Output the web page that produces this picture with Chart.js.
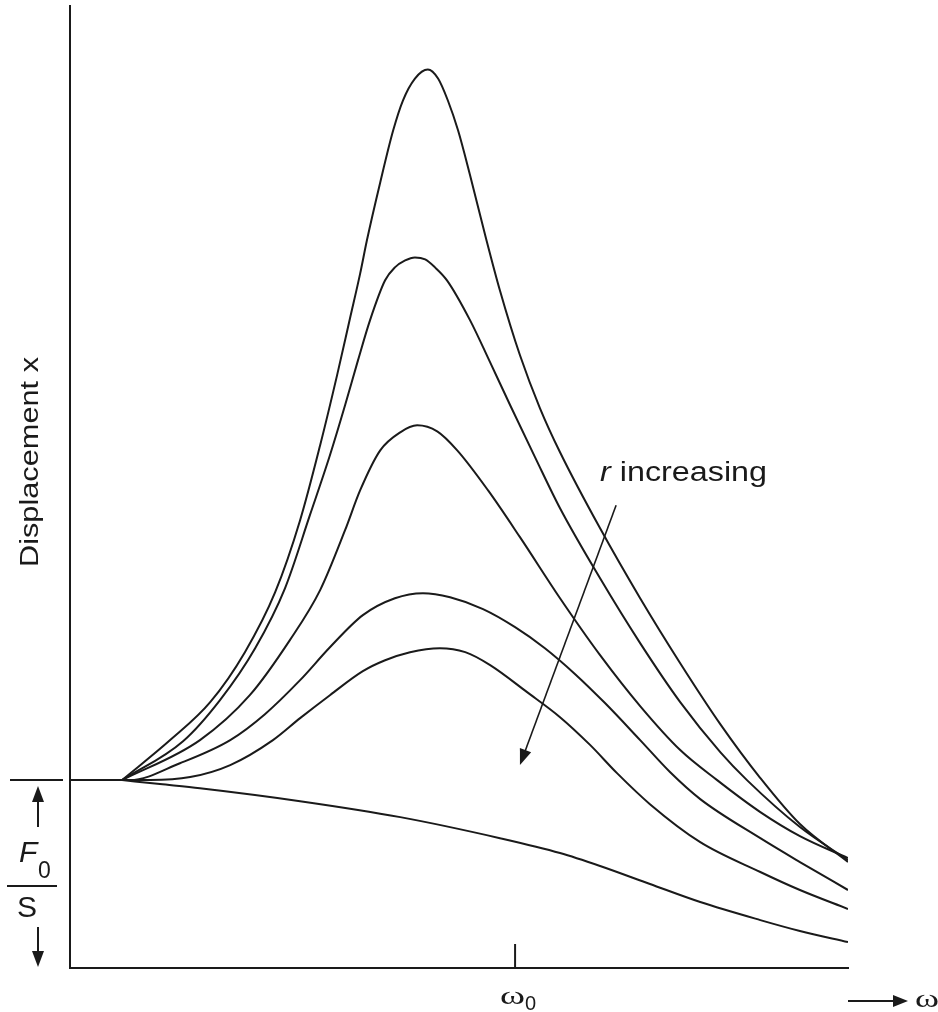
<!DOCTYPE html>
<html>
<head>
<meta charset="utf-8">
<script src="https://cdn.jsdelivr.net/npm/chart.js"></script>
<style>
  html, body { margin: 0; padding: 0; background: #fff; }
  #wrap { position: relative; width: 938px; height: 1012px; }
</style>
</head>
<body>
<div id="wrap"><canvas id="resChart"></canvas></div>
<script>
// frequency is omega / omega0, displacement is in units of F0/S
// shared flat start, then the curves fan out: small damping r (tallest) to large r (bottom)
const omegaFlat = [0, 0.117];
const dispFlat = [1.0, 1.0];

const omega1 = [0.117, 0.225, 0.315, 0.393, 0.461, 0.517, 0.562, 0.6, 0.629, 0.652, 0.667, 0.697, 0.726, 0.748, 0.775, 0.804, 0.827, 0.849, 0.872, 0.899, 0.933, 0.966, 1.011, 1.056, 1.101, 1.191, 1.281, 1.371, 1.461, 1.551, 1.64, 1.748];
const disp1 = [1.0, 1.213, 1.415, 1.681, 2.0, 2.383, 2.782, 3.154, 3.457, 3.697, 3.872, 4.181, 4.457, 4.617, 4.734, 4.782, 4.734, 4.617, 4.457, 4.218, 3.899, 3.606, 3.261, 2.979, 2.745, 2.34, 1.968, 1.622, 1.298, 1.011, 0.766, 0.564];

const omega2 = [0.117, 0.254, 0.337, 0.416, 0.483, 0.539, 0.584, 0.618, 0.647, 0.674, 0.708, 0.73, 0.753, 0.775, 0.798, 0.82, 0.847, 0.899, 0.944, 0.989, 1.045, 1.101, 1.191, 1.281, 1.371, 1.461, 1.521, 1.64, 1.748];
const disp2 = [1.0, 1.207, 1.426, 1.702, 2.021, 2.41, 2.729, 2.995, 3.234, 3.447, 3.66, 3.729, 3.766, 3.782, 3.771, 3.729, 3.66, 3.447, 3.223, 2.995, 2.718, 2.447, 2.074, 1.729, 1.415, 1.149, 1.0, 0.75, 0.574];

const omega3 = [0.117, 0.292, 0.404, 0.494, 0.562, 0.618, 0.652, 0.697, 0.742, 0.78, 0.825, 0.87, 0.939, 1.011, 1.101, 1.191, 1.281, 1.371, 1.454, 1.551, 1.64, 1.748];
const disp3 = [1.0, 1.213, 1.452, 1.745, 2.011, 2.33, 2.543, 2.755, 2.851, 2.888, 2.856, 2.755, 2.543, 2.293, 1.968, 1.665, 1.394, 1.16, 1.0, 0.83, 0.702, 0.585];

const omega4 = [0.117, 0.135, 0.247, 0.36, 0.438, 0.517, 0.584, 0.658, 0.73, 0.793, 0.854, 0.928, 1.0, 1.067, 1.135, 1.202, 1.281, 1.348, 1.416, 1.551, 1.64, 1.748];
const disp4 = [1.0, 1.0, 1.09, 1.213, 1.351, 1.532, 1.707, 1.878, 1.968, 1.995, 1.973, 1.91, 1.814, 1.702, 1.564, 1.41, 1.213, 1.043, 0.899, 0.691, 0.564, 0.415];

const omega5 = [0.117, 0.18, 0.27, 0.36, 0.456, 0.517, 0.584, 0.658, 0.708, 0.764, 0.831, 0.888, 0.944, 1.027, 1.101, 1.169, 1.229, 1.303, 1.416, 1.551, 1.64, 1.748];
const disp5 = [1.0, 1.0, 1.016, 1.08, 1.213, 1.33, 1.452, 1.58, 1.638, 1.681, 1.702, 1.681, 1.612, 1.468, 1.335, 1.186, 1.037, 0.872, 0.67, 0.511, 0.415, 0.314];

const omega6 = [0.117, 0.202, 0.292, 0.517, 0.742, 0.966, 1.101, 1.191, 1.303, 1.416, 1.551, 1.64, 1.748];
const disp6 = [1.0, 0.979, 0.957, 0.888, 0.803, 0.691, 0.612, 0.543, 0.447, 0.351, 0.255, 0.197, 0.138];

const omegaMax = 1.748;
const dispMax = 5.12;
const omega0Tick = 1;
// "r increasing" arrow, from tail to head
const arrowFrom = [1.227, 2.463];
const arrowTo = [1.011, 1.08];

const ink = '#1a1a1a';

const curves = [
  [omegaFlat, dispFlat],
  [omega1, disp1], [omega2, disp2], [omega3, disp3],
  [omega4, disp4], [omega5, disp5], [omega6, disp6]
];

function arrowHead(ctx, tipX, tipY, angle, len, half) {
  ctx.save();
  ctx.translate(tipX, tipY);
  ctx.rotate(angle);
  ctx.beginPath();
  ctx.moveTo(0, 0);
  ctx.lineTo(-len, -half);
  ctx.lineTo(-len, half);
  ctx.closePath();
  ctx.fill();
  ctx.restore();
}

// draw a string squeezed or widened to a given width
function fitText(ctx, str, x, y, width, font) {
  ctx.font = font;
  const w = ctx.measureText(str).width;
  ctx.save();
  ctx.translate(x, y);
  ctx.scale(width / w, 1);
  ctx.fillText(str, 0, 0);
  ctx.restore();
}

const decor = {
  id: 'decor',
  afterDraw(chart) {
    const ctx = chart.ctx;
    const xs = chart.scales.x;
    const ys = chart.scales.y;
    const area = chart.chartArea;
    ctx.save();
    ctx.fillStyle = ink;
    ctx.strokeStyle = ink;
    ctx.lineWidth = 2;
    ctx.textBaseline = 'alphabetic';

    // omega0 tick pointing up into the plot
    const tx = xs.getPixelForValue(omega0Tick);
    ctx.beginPath();
    ctx.moveTo(tx, area.bottom);
    ctx.lineTo(tx, area.bottom - 24);
    ctx.stroke();

    // omega0 label
    fitText(ctx, 'ω', tx - 15, 1004, 25, '26px "Liberation Serif"');
    ctx.font = '20px "Liberation Sans"';
    ctx.fillText('0', tx + 10, 1010);

    // arrow -> omega at the bottom right
    const ay = 1001;
    ctx.beginPath();
    ctx.moveTo(area.right, ay);
    ctx.lineTo(area.right + 46, ay);
    ctx.stroke();
    arrowHead(ctx, area.right + 60, ay, 0, 15, 6);
    fitText(ctx, 'ω', area.right + 67, 1007, 24, '26px "Liberation Serif"');

    // y title
    ctx.save();
    ctx.translate(38, 462);
    ctx.rotate(-Math.PI / 2);
    fitText(ctx, 'Displacement x', -105, 0, 210, '25px "Liberation Sans"');
    ctx.restore();

    // F0/S bracket on the left
    const y1 = ys.getPixelForValue(1);
    const y0 = ys.getPixelForValue(0);
    ctx.beginPath();
    ctx.moveTo(10, y1);
    ctx.lineTo(63, y1);
    ctx.moveTo(38, y1 + 20);
    ctx.lineTo(38, y1 + 47);
    ctx.moveTo(7, 886);
    ctx.lineTo(57, 886);
    ctx.moveTo(38, 927);
    ctx.lineTo(38, y0 - 15);
    ctx.stroke();
    arrowHead(ctx, 38, y1 + 6, -Math.PI / 2, 16, 6);
    arrowHead(ctx, 38, y0 - 1, Math.PI / 2, 16, 6);
    ctx.font = 'italic 30px "Liberation Sans"';
    ctx.fillText('F', 19, 862);
    ctx.font = '23px "Liberation Sans"';
    ctx.fillText('0', 38, 878);
    ctx.font = '30px "Liberation Sans"';
    ctx.fillText('S', 17, 917);

    // r increasing
    const fx = xs.getPixelForValue(arrowFrom[0]);
    const fy = ys.getPixelForValue(arrowFrom[1]);
    const hx = xs.getPixelForValue(arrowTo[0]);
    const hy = ys.getPixelForValue(arrowTo[1]);
    const ang = Math.atan2(hy - fy, hx - fx);
    ctx.lineWidth = 1.6;
    ctx.beginPath();
    ctx.moveTo(fx, fy);
    ctx.lineTo(hx - 12 * Math.cos(ang), hy - 12 * Math.sin(ang));
    ctx.stroke();
    arrowHead(ctx, hx, hy, ang, 16, 6);

    ctx.font = 'italic 27px "Liberation Sans"';
    const wr = ctx.measureText('r').width;
    ctx.font = '27px "Liberation Sans"';
    const wi = ctx.measureText(' increasing').width;
    const k = 167 / (wr + wi);
    ctx.save();
    ctx.translate(600, 481);
    ctx.scale(k, 1);
    ctx.font = 'italic 27px "Liberation Sans"';
    ctx.fillText('r', 0, 0);
    ctx.font = '27px "Liberation Sans"';
    ctx.fillText(' increasing', wr, 0);
    ctx.restore();

    ctx.restore();
  }
};

const datasets = curves.map(([om, dp]) => ({
  data: om.map((w, i) => ({ x: w, y: dp[i] })),
  showLine: true,
  borderColor: ink,
  borderWidth: 2,
  pointRadius: 0,
  fill: false,
  cubicInterpolationMode: 'monotone'
}));

new Chart(document.getElementById('resChart'), {
  type: 'scatter',
  data: { datasets: datasets },
  options: {
    responsive: true,
    maintainAspectRatio: false,
    animation: false,
    layout: { padding: { left: 70, right: 90, top: 6, bottom: 44 } },
    plugins: {
      legend: { display: false },
      tooltip: { enabled: false }
    },
    scales: {
      x: {
        type: 'linear',
        min: 0,
        max: omegaMax,
        grid: { display: false, drawTicks: false },
        ticks: { display: false },
        border: { display: true, color: ink, width: 2 }
      },
      y: {
        type: 'linear',
        min: 0,
        max: dispMax,
        grid: { display: false, drawTicks: false },
        ticks: { display: false },
        border: { display: true, color: ink, width: 2 }
      }
    }
  },
  plugins: [decor]
});
</script>
</body>
</html>
